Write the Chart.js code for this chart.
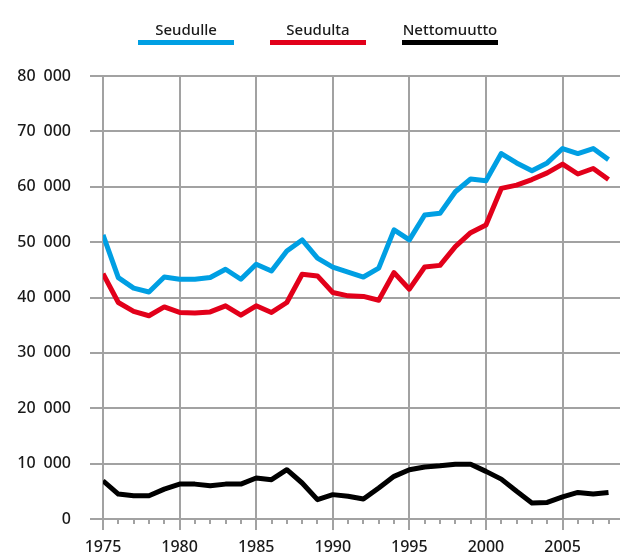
<!DOCTYPE html>
<html>
<head>
<meta charset="utf-8">
<script src="https://cdn.jsdelivr.net/npm/chart.js@4/dist/chart.umd.min.js"></script>
<style>
  html, body { margin: 0; padding: 0; background: #fff; }
  #wrap { width: 620px; height: 558px; position: relative; }
</style>
</head>
<body>
<div id="wrap"><canvas id="myChart"></canvas></div>
<script>
var years = [];
for (var y = 1975; y <= 2008; y++) years.push(y);

var yTicks = [0, 10000, 20000, 30000, 40000, 50000, 60000, 70000, 80000];

var seudulle = [51300, 43600, 41700, 41000, 43700, 43300, 43300, 43600, 45100, 43300,
                46000, 44800, 48400, 50400, 47100, 45500, 44600, 43700, 45300, 52200,
                50400, 54900, 55200, 59100, 61400, 61100, 66000, 64300, 62900, 64300,
                66900, 66000, 66900, 64900];
var seudulta = [44300, 39100, 37500, 36700, 38300, 37300, 37200, 37400, 38500, 36800,
                38500, 37300, 39100, 44200, 43900, 40900, 40300, 40200, 39500, 44500,
                41500, 45500, 45800, 49200, 51700, 53100, 59700, 60300, 61300, 62500,
                64100, 62300, 63300, 61300];
var nettomuutto = [6900, 4500, 4200, 4200, 5400, 6300, 6300, 6000, 6300, 6300,
                   7400, 7100, 8900, 6500, 3500, 4400, 4100, 3600, 5600, 7700,
                   8900, 9400, 9600, 9900, 9900, 8600, 7200, 5000, 2900, 3000,
                   4000, 4800, 4500, 4800];

var gridGrey = "#a2a2a2";
var fontFamily = "'Noto Sans', sans-serif";

function pairs(vals) {
  return years.map(function (yr, i) { return { x: yr, y: vals[i] }; });
}

// legend: label above a thick line sample
var legendAbove = {
  id: "legendAbove",
  afterDraw: function (chart) {
    var ctx = chart.ctx;
    var startX = 138, w = 96, gap = 36;
    ctx.save();
    chart.data.datasets.forEach(function (ds, i) {
      var x0 = startX + i * (w + gap);
      ctx.fillStyle = "#1a1a1a";
      ctx.font = "500 15px " + fontFamily;
      ctx.textAlign = "center";
      ctx.textBaseline = "alphabetic";
      ctx.fillText(ds.label, x0 + w / 2, 35);
      ctx.fillStyle = ds.borderColor;
      ctx.fillRect(x0, 40, w, 5);
    });
    ctx.restore();
  }
};

// short yearly ticks under the x axis
var minorTicks = {
  id: "minorTicks",
  afterDraw: function (chart) {
    var ctx = chart.ctx;
    var xs = chart.scales.x;
    var bottom = chart.chartArea.bottom;
    ctx.save();
    ctx.strokeStyle = gridGrey;
    ctx.lineWidth = 2;
    years.forEach(function (yr) {
      if (yr % 5 === 0) return;
      var px = Math.round(xs.getPixelForValue(yr));
      ctx.beginPath();
      ctx.moveTo(px, bottom);
      ctx.lineTo(px, bottom + 5);
      ctx.stroke();
    });
    ctx.restore();
  }
};

var ctx = document.getElementById("myChart");
var myChart = new Chart(ctx, {
  type: "line",
  data: {
    datasets: [
      { label: "Seudulle", data: pairs(seudulle), borderColor: "#009fe3" },
      { label: "Seudulta", data: pairs(seudulta), borderColor: "#e2001a" },
      { label: "Nettomuutto", data: pairs(nettomuutto), borderColor: "#000000" }
    ]
  },
  options: {
    responsive: true,
    maintainAspectRatio: false,
    animation: false,
    layout: { padding: { top: 76, right: 0, left: 0, bottom: 0 } },
    elements: {
      line: { borderWidth: 5, tension: 0, borderJoinStyle: "round", borderCapStyle: "butt", fill: false },
      point: { radius: 0 }
    },
    plugins: {
      legend: { display: false },
      tooltip: { enabled: false }
    },
    scales: {
      x: {
        type: "linear",
        min: 1975,
        max: 2008.75,
        afterBuildTicks: function (scale) {
          scale.ticks = years.map(function (v) { return { value: v }; });
        },
        afterFit: function (scale) { scale.height = 39; },
        border: { display: false },
        grid: {
          lineWidth: 2,
          tickLength: 11,
          color: function (c) { return c.tick && c.tick.value % 5 === 0 ? gridGrey : "rgba(0,0,0,0)"; },
          tickColor: function (c) { return c.tick && c.tick.value % 5 === 0 ? gridGrey : "rgba(0,0,0,0)"; }
        },
        ticks: {
          autoSkip: false,
          maxRotation: 0,
          padding: 8,
          color: "#1a1a1a",
          font: { family: fontFamily, size: 16, weight: "500" },
          callback: function (v) { return v % 5 === 0 ? String(v) : ""; }
        }
      },
      y: {
        min: 0,
        max: 80000,
        afterBuildTicks: function (scale) {
          scale.ticks = yTicks.map(function (v) { return { value: v }; });
        },
        afterFit: function (scale) { scale.width = 103; },
        border: { display: false },
        grid: { lineWidth: 2, tickLength: 13, color: gridGrey, tickColor: gridGrey },
        ticks: {
          padding: 19,
          color: "#1a1a1a",
          font: { family: fontFamily, size: 16, weight: "500" },
          callback: function (v) { return v === 0 ? "0" : (v / 1000) + "\u2002000"; }
        }
      }
    }
  },
  plugins: [legendAbove, minorTicks]
});
</script>
</body>
</html>
